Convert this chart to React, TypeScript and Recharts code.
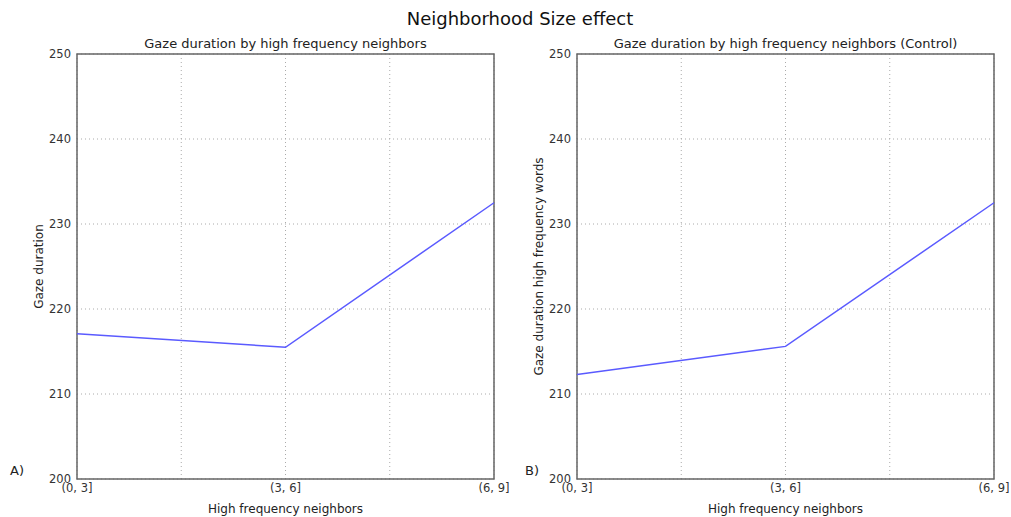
import { LineChart, Line, XAxis, YAxis, CartesianGrid, ReferenceArea } from "recharts";

// neighbour-count bins on the x axis
const bins = ["(0, 3]", "(3, 6]", "(6, 9]"];
// mean gaze duration per bin
const gazeHigh = [217.1, 215.5, 232.5];
const gazeControl = [212.3, 215.6, 232.5];
const yTicks = [200, 210, 220, 230, 240, 250];
const xTicks = [0, 0.5, 1, 1.5, 2];

const FONT = "'DejaVu Sans', sans-serif";

const toRows = (values: number[]) => values.map((v, i) => ({ pos: i, gaze: v }));

interface PanelProps {
  title: string;
  yLabel: string;
  values: number[];
  tag: string;
  left: number;
  width: number;
  right: number;
}

function Panel({ title, yLabel, values, tag, left, width, right }: PanelProps) {
  const plotLeft = left + 77;
  const plotRight = left + width - right;
  return (
    <>
      <div
        style={{
          position: "absolute",
          left: plotLeft,
          width: plotRight - plotLeft,
          top: 36,
          textAlign: "center",
          fontSize: 13,
          color: "#222",
          whiteSpace: "nowrap",
        }}
      >
        {title}
      </div>
      <div style={{ position: "absolute", left: left + (tag === "A)" ? 10 : 25), top: 463, fontSize: 13, color: "#222" }}>
        {tag}
      </div>
      <div style={{ position: "absolute", left, top: 0 }}>
        <LineChart width={width} height={517} data={toRows(values)} margin={{ top: 54, right, bottom: 0, left: 0 }}>
          <CartesianGrid stroke="#aaa" strokeDasharray="1 3" horizontalPoints={undefined} />
          <XAxis
            dataKey="pos"
            type="number"
            domain={[0, 2]}
            ticks={xTicks}
            tickFormatter={(v: number) => (Number.isInteger(v) ? bins[v] : "")}
            axisLine={false}
            tickLine={false}
            tickSize={0}
            tickMargin={5}
            height={38}
            interval={0}
            tick={{ fontSize: 11.5, fill: "#333", fontFamily: FONT }}
            label={{ value: "High frequency neighbors", position: "insideBottom", offset: 4, fontSize: 12, fill: "#222", fontFamily: FONT }}
          />
          <YAxis
            type="number"
            domain={[200, 250]}
            ticks={yTicks}
            axisLine={false}
            tickLine={false}
            tickSize={0}
            tickMargin={6}
            width={77}
            interval={0}
            tick={{ fontSize: 11.5, fill: "#333", fontFamily: FONT }}
            label={{ value: yLabel, angle: -90, position: "center", fontSize: 12, fill: "#222", fontFamily: FONT }}
          />
          <ReferenceArea x1={0} x2={2} y1={200} y2={250} fill="none" stroke="#666" strokeWidth={1.5} />
          <Line type="linear" dataKey="gaze" stroke="#5a5aff" strokeWidth={1.5} dot={false} isAnimationActive={false} />
        </LineChart>
      </div>
    </>
  );
}

export default function App() {
  return (
    <div style={{ position: "absolute", left: 0, top: 0, width: 1011, height: 517, background: "#fff", fontFamily: FONT }}>
      <div style={{ position: "absolute", left: 0, width: 1040, top: 8, textAlign: "center", fontSize: 18, color: "#111" }}>
        Neighborhood Size effect
      </div>
      <Panel
        title="Gaze duration by high frequency neighbors"
        yLabel="Gaze duration"
        values={gazeHigh}
        tag="A)"
        left={0}
        width={510}
        right={16}
      />
      <Panel
        title="Gaze duration by high frequency neighbors (Control)"
        yLabel="Gaze duration high frequency words"
        values={gazeControl}
        tag="B)"
        left={500}
        width={511}
        right={17}
      />
    </div>
  );
}
